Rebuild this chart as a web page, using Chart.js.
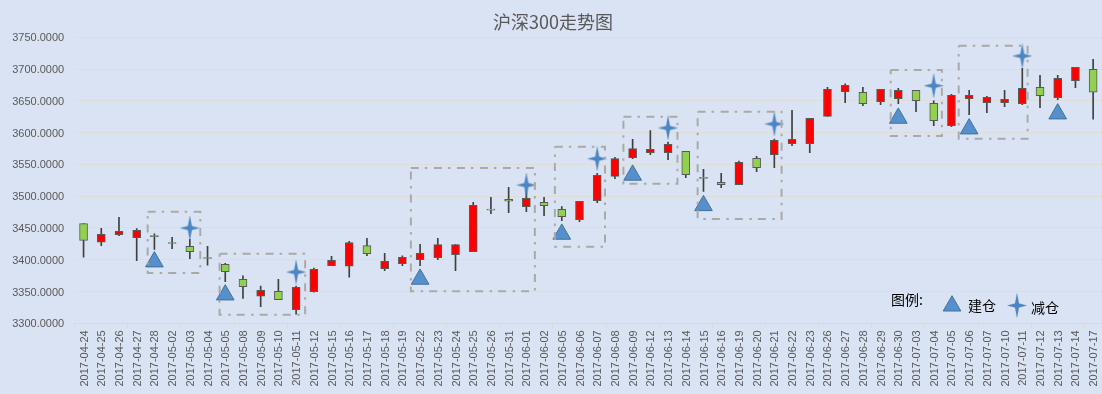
<!DOCTYPE html>
<html>
<head>
<meta charset="utf-8">
<title>沪深300走势图</title>
<script src="https://cdn.jsdelivr.net/npm/chart.js@4"></script>
<style>
html,body{margin:0;padding:0;background:#DAE3F3;}
canvas{display:block;}
</style>
</head>
<body>
<canvas id="myChart" width="1102" height="394"></canvas>
<script>
const dates = ["2017-04-24","2017-04-25","2017-04-26","2017-04-27","2017-04-28","2017-05-02","2017-05-03","2017-05-04","2017-05-05","2017-05-08","2017-05-09","2017-05-10","2017-05-11","2017-05-12","2017-05-15","2017-05-16","2017-05-17","2017-05-18","2017-05-19","2017-05-22","2017-05-23","2017-05-24","2017-05-25","2017-05-26","2017-05-31","2017-06-01","2017-06-02","2017-06-05","2017-06-06","2017-06-07","2017-06-08","2017-06-09","2017-06-12","2017-06-13","2017-06-14","2017-06-15","2017-06-16","2017-06-19","2017-06-20","2017-06-21","2017-06-22","2017-06-23","2017-06-26","2017-06-27","2017-06-28","2017-06-29","2017-06-30","2017-07-03","2017-07-04","2017-07-05","2017-07-06","2017-07-07","2017-07-10","2017-07-11","2017-07-12","2017-07-13","2017-07-14","2017-07-17"];
const openPrice = [3456.8,3427.5,3439.5,3434.8,3438.2,3427.2,3421.2,3403.6,3392.8,3369.2,3342.5,3350.4,3321.5,3349.8,3390.7,3389.7,3422.2,3386,3393.9,3400.2,3403.3,3408,3412.8,3479.8,3495.1,3483.6,3490.4,3479.4,3463.1,3493,3531.3,3560.7,3568.5,3568.5,3570.6,3529.6,3521.9,3518.2,3559.6,3565.4,3582.7,3582.7,3625.7,3664.5,3663.5,3648.8,3653.5,3666.6,3646.2,3611,3653.5,3647.2,3647.2,3645.6,3671.3,3655.1,3681.8,3699.7];
const closePrice = [3430.6,3440,3444.8,3446.3,3436.5,3425.6,3412.8,3402,3381.3,3357.7,3351.9,3337.2,3356.6,3385,3399.1,3426.9,3409.6,3397.6,3403.9,3410.1,3423.8,3423.8,3485.7,3478,3492,3496.7,3485.1,3467.8,3492,3532.9,3559.1,3574.8,3573.8,3581.7,3533.9,3527.8,3518.2,3553.3,3544.9,3588,3589.5,3622.6,3668.2,3674.5,3645.6,3668.2,3666.6,3650.4,3618.9,3658.8,3658.8,3655.6,3652.5,3669.8,3658.2,3685.5,3702.8,3663.5];
const highPrice = [3456.8,3449.5,3466.8,3449,3440.6,3435.3,3432.2,3421.2,3394.4,3374.5,3358.7,3369.2,3358.7,3387,3405.4,3429,3433.7,3410.1,3406,3424.3,3433.7,3423.8,3490.4,3498.3,3514,3510,3498.3,3483.6,3492,3536,3561.2,3589.5,3603.2,3585,3570.6,3542.3,3536,3555.4,3562.8,3590,3635.2,3622.6,3671.3,3676.6,3671.3,3668.2,3669.8,3666.6,3650,3660.3,3666.6,3657.2,3666.6,3701.2,3690.2,3690.2,3702.8,3715.4];
const lowPrice = [3403.9,3422.2,3437.9,3398.6,3416.4,3417.5,3401.8,3391.3,3365.6,3339.3,3326.2,3337.2,3314.2,3348.8,3390.7,3372.4,3406.5,3382.9,3390.7,3390.7,3400.2,3382.9,3412.8,3472.6,3474.1,3475.7,3469.4,3461.5,3460,3489.9,3527.6,3559.1,3565.4,3557.5,3529.2,3507.7,3513.5,3518.2,3538.6,3544.9,3579.6,3568.5,3625.7,3647.2,3642.5,3644,3645.6,3633,3611,3609.5,3628.3,3631.5,3640.9,3644,3639.4,3651.9,3670.8,3621];

const buildDates = ["2017-04-28","2017-05-05","2017-05-22","2017-06-05","2017-06-09","2017-06-15","2017-06-30","2017-07-06","2017-07-13"];
const buildValues = [3396.8,3344.8,3369.5,3440.3,3533.2,3485.3,3622.8,3606,3629.6];
const reduceDates = ["2017-05-03","2017-05-11","2017-06-01","2017-06-07","2017-06-13","2017-06-21","2017-07-04","2017-07-11"];
const reduceValues = [3449.9,3380.7,3517.6,3559,3607.3,3613.6,3673.8,3720.6];

// dashed boxes, x is in category index units
const boxLeft = [3.62,7.68,18.48,26.61,30.48,34.67,45.57,49.41];
const boxRight = [6.59,12.51,25.48,29.44,33.53,39.41,48.46,53.3];
const boxTop = [3475.6,3409.5,3544.3,3577.8,3625,3632.9,3698.5,3736.8];
const boxBottom = [3379.1,3313.5,3350.3,3420.5,3519.6,3464.1,3594.7,3590.4];

const yTicks = [3300,3350,3400,3450,3500,3550,3600,3650,3700,3750];

const blue = "#5590CC";
const blueEdge = "#41719C";
const textGrey = "#595959";

function makeStar(){
    const c = document.createElement("canvas");
    c.width = 20;
    c.height = 25;
    const g = c.getContext("2d");
    g.translate(10,12.5);
    g.beginPath();
    g.moveTo(0,-12);
    g.lineTo(1.9,-1.9);
    g.lineTo(9.5,0);
    g.lineTo(1.9,1.9);
    g.lineTo(0,12);
    g.lineTo(-1.9,1.9);
    g.lineTo(-9.5,0);
    g.lineTo(-1.9,-1.9);
    g.closePath();
    g.fillStyle = "#4A86C5";
    g.fill();
    g.strokeStyle = "rgba(65,113,156,0.4)";
    g.lineWidth = 0.5;
    g.stroke();
    return c;
}
const starImage = makeStar();

const legendNote = {
    id:"legendNote",
    afterDraw(chart){
        const ctx = chart.ctx;
        ctx.save();
        ctx.fillStyle = "#000";
        ctx.textBaseline = "middle";
        ctx.font = "14px 'Noto Sans CJK SC'";
        ctx.fillText("图例:",891,300);
        ctx.fillText("建仓",968,306);
        ctx.fillText("减仓",1031,307.5);
        ctx.fillStyle = blue;
        ctx.strokeStyle = blueEdge;
        Chart.helpers.drawPoint(ctx,{pointStyle:"triangle",radius:10.2,borderWidth:1,rotation:0},952,305.9);
        ctx.drawImage(starImage,1007,293);
        ctx.restore();
    }
};

const wickSet = {
    type:"bar",
    label:"最高最低",
    data:dates.map((d,i)=>[lowPrice[i],highPrice[i]]),
    backgroundColor:"#404040",
    barThickness:1,
    grouped:false,
    order:3
};
const bodySet = {
    type:"bar",
    label:"开盘收盘",
    data:dates.map((d,i)=>[openPrice[i],closePrice[i]]),
    backgroundColor:dates.map((d,i)=>closePrice[i]>openPrice[i]?"#FF0000":"#92D050"),
    borderColor:"#595959",
    borderWidth:1,
    borderSkipped:false,
    barThickness:8,
    grouped:false,
    order:2
};
const buildSet = {
    type:"line",
    label:"建仓",
    data:buildDates.map((d,i)=>({x:d,y:buildValues[i]})),
    showLine:false,
    pointStyle:"triangle",
    pointRadius:10.2,
    pointBackgroundColor:blue,
    pointBorderColor:blueEdge,
    pointBorderWidth:1,
    order:1
};
const reduceSet = {
    type:"line",
    label:"减仓",
    data:reduceDates.map((d,i)=>({x:d,y:reduceValues[i]})),
    showLine:false,
    pointStyle:starImage,
    order:1
};
const boxSets = boxLeft.map((l,i)=>({
    type:"line",
    label:"区间"+(i+1),
    xAxisID:"x2",
    data:[
        {x:l,y:boxTop[i]},
        {x:boxRight[i],y:boxTop[i]},
        {x:boxRight[i],y:boxBottom[i]},
        {x:l,y:boxBottom[i]},
        {x:l,y:boxTop[i]}
    ],
    borderColor:"#ABA9A6",
    borderWidth:2,
    borderDash:[8,6,2.5,6.5],
    pointRadius:0,
    tension:0,
    fill:false,
    order:0
}));

const ctx = document.getElementById("myChart").getContext("2d");
new Chart(ctx,{
    data:{
        labels:dates,
        datasets:[wickSet,bodySet,buildSet,reduceSet].concat(boxSets)
    },
    plugins:[legendNote],
    options:{
        responsive:false,
        animation:false,
        layout:{autoPadding:false,padding:{left:4,right:0,top:0,bottom:0}},
        plugins:{
            legend:{display:false},
            tooltip:{enabled:false},
            title:{
                display:true,
                text:"沪深300走势图",
                color:textGrey,
                font:{family:"'Noto Sans CJK SC'",size:18,weight:"normal"},
                padding:{top:11,bottom:4.7}
            }
        },
        scales:{
            x:{
                type:"category",
                offset:true,
                grid:{
                    offset:true,
                    drawOnChartArea:false,
                    drawTicks:true,
                    tickLength:4,
                    tickColor:c=>c.index%3==0?"#D9D9D9":"rgba(0,0,0,0)"
                },
                border:{color:"#D9D9D9"},
                ticks:{
                    autoSkip:false,
                    minRotation:90,
                    maxRotation:90,
                    padding:3,
                    labelOffset:1,
                    color:textGrey,
                    font:{family:"'Liberation Sans'",size:11}
                },
                afterFit(scale){
                    scale.height=70.7;
                    scale.paddingLeft=0;
                    scale.paddingRight=0;
                }
            },
            x2:{
                type:"linear",
                axis:"x",
                display:false,
                min:-0.5,
                max:57.5
            },
            y:{
                type:"linear",
                min:3300,
                max:3750,
                afterBuildTicks(scale){scale.ticks=yTicks.map(v=>({value:v}));},
                grid:{color:"#DFDDD8",drawTicks:false,lineWidth:1},
                border:{display:false},
                ticks:{
                    padding:10.5,
                    labelOffset:1,
                    color:textGrey,
                    font:{family:"'Liberation Sans'",size:11},
                    callback:v=>v.toFixed(4)
                },
                afterFit(scale){scale.width=70.7;}
            }
        }
    }
});
</script>
</body>
</html>
